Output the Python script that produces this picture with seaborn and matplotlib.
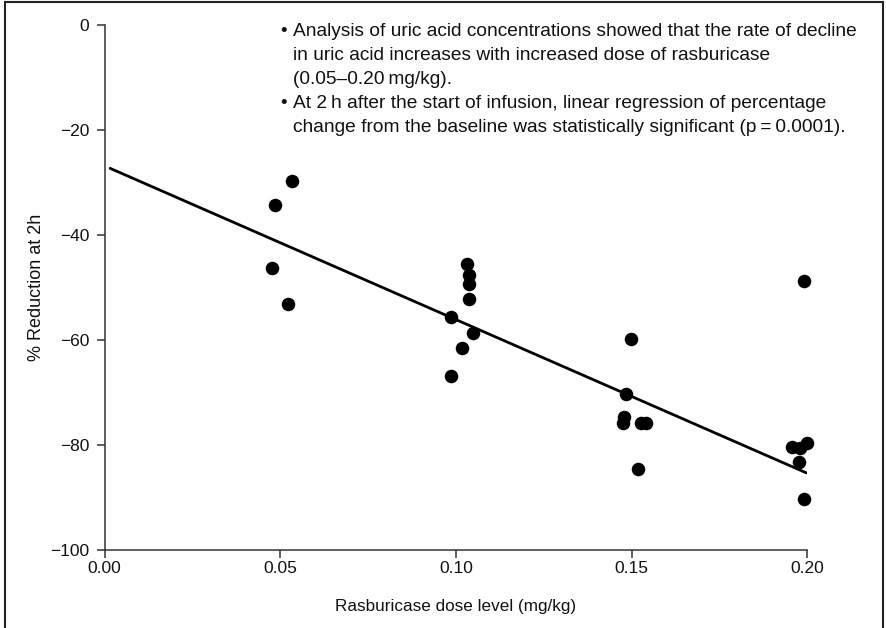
import matplotlib
matplotlib.use("Agg")
import matplotlib.pyplot as plt
from matplotlib.patches import Rectangle
import pandas as pd
import seaborn as sns

# dose level (mg/kg) and % reduction at 2 h
dose = [0.0533, 0.0485, 0.0478, 0.0523,
        0.1033, 0.1036, 0.1038, 0.1038, 0.0985, 0.1050, 0.1018, 0.0985,
        0.1497, 0.1484, 0.1477, 0.1475, 0.1527, 0.1541, 0.1518,
        0.1957, 0.1980, 0.2000, 0.1976, 0.1992, 0.1990]
reduction = [-29.7, -34.3, -46.3, -53.2,
             -45.6, -47.6, -49.4, -52.2, -55.6, -58.6, -61.6, -66.8,
             -59.9, -70.2, -74.6, -75.8, -75.9, -75.9, -84.6,
             -80.3, -80.6, -79.6, -83.3, -90.2, -48.7]

# regression line end points
fit_x = [0.0016, 0.1997]
fit_y = [-27.3, -85.3]

notes = [
    ["Analysis of uric acid concentrations showed that the rate of decline",
     "in uric acid increases with increased dose of rasburicase",
     "(0.05\u20130.20\u2009mg/kg)."],
    ["At 2\u2009h after the start of infusion, linear regression of percentage",
     "change from the baseline was statistically significant (p\u2009=\u20090.0001)."],
]

sns.set_style("ticks")
plt.rcParams['font.family'] = ['Liberation Sans', 'DejaVu Sans']
plt.rcParams['axes.unicode_minus'] = True

fig = plt.figure(figsize=(8.86, 6.28), dpi=100)
ax = fig.add_axes([104.5 / 886, 1 - 550 / 628, (807.3 - 104.5) / 886, (550 - 25) / 628])

df = pd.DataFrame({'dose': dose, 'reduction': reduction})
sns.lineplot(x=fit_x, y=fit_y, ax=ax, color='black', linewidth=2.0)
sns.scatterplot(data=df, x='dose', y='reduction', ax=ax, color='black',
                s=95, edgecolor='black', linewidth=0, clip_on=False, zorder=3)

ax.set_xlim(0, 0.2)
ax.set_ylim(-100, 0)
ax.set_xticks([0.0, 0.05, 0.10, 0.15, 0.20])
ax.set_xticklabels(['0.00', '0.05', '0.10', '0.15', '0.20'])
ax.set_yticks([0, -20, -40, -60, -80, -100])
ax.tick_params(direction='out', length=5.8, width=1.1, color='#333333',
               labelsize=12.5, labelcolor='#111111')
ax.tick_params(axis='x', pad=2)
ax.tick_params(axis='y', pad=5)
for s in ['left', 'bottom']:
    ax.spines[s].set_linewidth(1.1)
    ax.spines[s].set_color('#333333')
sns.despine(ax=ax)

ax.set_xlabel('Rasburicase dose level (mg/kg)', fontsize=12.3, labelpad=17, color='#111111')
ax.set_ylabel('% Reduction at 2h', fontsize=13, labelpad=4, color='#111111')

# bullet notes
baseline = 36
for item in notes:
    for i, line in enumerate(item):
        if i == 0:
            fig.text(284 / 886, 1 - baseline / 628, '\u2022', fontsize=13.6,
                     ha='center', va='baseline', color='#111111')
        fig.text(293 / 886, 1 - baseline / 628, line, fontsize=13.8,
                 ha='left', va='baseline', color='#111111')
        baseline += 24

# outer frame
fig.patches.append(Rectangle((5 / 886, -0.05), (883 - 5) / 886, 1.05 - 2 / 628,
                             transform=fig.transFigure, fill=False,
                             edgecolor='#222222', linewidth=1.5))

fig.savefig('out.png', dpi=100)
